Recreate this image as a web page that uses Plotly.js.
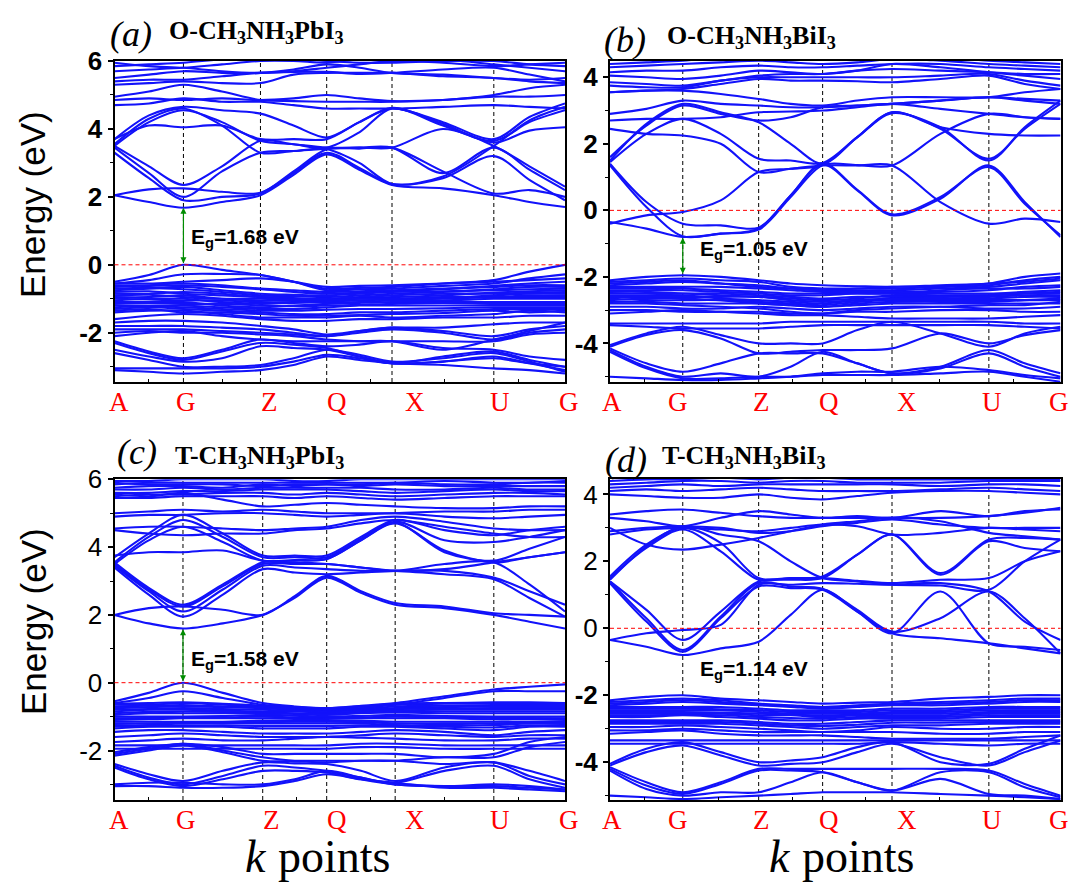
<!DOCTYPE html>
<html><head><meta charset="utf-8">
<script src="https://cdn.plot.ly/plotly-3.0.1.min.js"></script>
<style>html,body{margin:0;padding:0;background:#fff}#chart{width:1074px;height:885px}</style>
</head><body><div id="chart"></div>
<script>
// ---------------- DATA ----------------
const kLabels = ['A','G','Z','Q','X','U','G'];
// k-path distances (normalised) of the high-symmetry points
const kPathA = [0, 0.153, 0.324, 0.471, 0.616, 0.842, 1];
const kPathB = [0, 0.1615, 0.330, 0.472, 0.626, 0.841, 1];
const kPathC = [0, 0.152, 0.329, 0.471, 0.623, 0.842, 1];
const kPathD = [0, 0.1615, 0.330, 0.472, 0.626, 0.841, 1];

const panelTitles = ['O-CH<sub>3</sub>NH<sub>3</sub>PbI<sub>3</sub>','O-CH<sub>3</sub>NH<sub>3</sub>BiI<sub>3</sub>','T-CH<sub>3</sub>NH<sub>3</sub>PbI<sub>3</sub>','T-CH<sub>3</sub>NH<sub>3</sub>BiI<sub>3</sub>'];
const panelLetters = ['(a)','(b)','(c)','(d)'];
const gapValues = [1.68, 1.05, 1.58, 1.14];
// gap arrow ends [VBM, CBM] (null = no arrow)
const gapArrows = [[0, 1.68], [-1.95, -0.82], [0, 1.58], null];
const xTitleParts = ['k', 'points'];

// band energies (eV) sampled at A, A-G mid, G, G-Z mid, Z, Z-Q mid, Q, Q-X mid, X, X-U mid, U, U-G mid, G
const condA = [
 [2.05,1.85,1.68,1.85,2.05,2.65,3.25,2.8,2.35,2.25,2.05,1.85,1.7],
 [2.05,2.22,2.25,2.15,2.12,2.7,3.3,2.85,2.38,2.55,3.2,2.5,1.9],
 [3.3,2.55,1.9,2.0,2.1,2.75,3.4,3.42,3.45,2.75,2.1,2.2,2.0],
 [3.45,2.7,2.0,2.75,3.3,3.35,3.42,3.45,3.45,4.0,3.5,2.9,2.3],
 [3.5,2.9,2.35,2.9,3.65,3.55,3.45,3.45,3.45,2.7,3.45,2.8,2.2],
 [3.5,4.2,4.55,4.2,3.65,3.55,3.45,3.9,4.6,4.1,3.65,4.2,4.55],
 [3.55,4.3,4.6,4.1,3.3,3.35,3.4,3.0,2.38,2.6,3.5,4.25,4.65],
 [3.7,4.1,4.05,4.1,3.7,3.7,3.7,4.2,4.62,4.15,3.6,3.95,4.05],
 [3.7,4.4,4.65,4.55,4.45,4.1,3.75,4.2,4.6,4.2,3.7,4.35,4.75],
 [4.7,4.75,4.9,4.8,4.8,4.7,4.6,4.6,4.6,4.65,4.7,4.65,4.6],
 [4.85,4.9,4.85,4.9,4.85,4.9,5.0,4.9,4.82,4.85,4.95,4.95,5.0],
 [4.95,5.1,5.3,5.1,4.85,4.82,4.8,4.8,4.8,4.85,5.0,5.2,5.3],
 [5.3,5.35,5.4,5.35,5.35,5.6,5.65,5.65,5.65,5.55,5.5,5.4,5.35],
 [5.4,5.45,5.45,5.55,5.65,5.68,5.68,5.62,5.65,5.75,5.8,5.6,5.4],
 [5.5,5.6,5.7,5.65,5.65,5.75,5.9,5.8,5.65,5.6,5.5,5.45,5.5],
 [5.7,5.75,5.8,5.9,6.0,6.0,5.95,6.05,6.1,6.05,5.9,5.8,5.7],
 [5.85,5.9,5.95,6.05,6.1,6.1,6.0,5.95,5.95,6.0,6.0,5.9,5.85],
 [5.95,5.85,5.8,5.7,5.65,5.7,5.8,5.9,6.0,5.95,5.85,5.9,5.95]
];
const valA = [
 [-0.5,-0.3,0,-0.15,-0.3,-0.5,-0.7,-0.68,-0.65,-0.55,-0.45,-0.2,0],
 [-0.55,-0.45,-0.28,-0.27,-0.3,-0.5,-0.75,-0.72,-0.7,-0.62,-0.55,-0.4,-0.28],
 [-0.55,-0.55,-0.5,-0.45,-0.4,-0.5,-0.65,-0.62,-0.6,-0.55,-0.5,-0.45,-0.4],
 [-0.6,-0.62,-0.6,-0.65,-0.72,-0.8,-0.85,-0.82,-0.78,-0.72,-0.62,-0.55,-0.5],
 [-0.65,-0.6,-0.55,-0.6,-0.7,-0.75,-0.8,-0.78,-0.75,-0.7,-0.65,-0.6,-0.6],
 [-0.7,-0.68,-0.72,-0.8,-0.9,-0.92,-0.95,-0.9,-0.85,-0.8,-0.72,-0.65,-0.65],
 [-0.75,-0.7,-0.65,-0.75,-0.85,-0.88,-0.9,-0.85,-0.8,-0.78,-0.75,-0.72,-0.7],
 [-0.8,-0.78,-0.85,-0.9,-0.95,-0.98,-1.0,-0.98,-0.95,-0.9,-0.82,-0.78,-0.75],
 [-0.85,-0.85,-0.8,-0.85,-0.95,-1.0,-1.0,-0.95,-0.9,-0.85,-0.85,-0.82,-0.8],
 [-0.9,-0.88,-0.95,-1.0,-1.0,-1.02,-1.02,-1.0,-1.0,-0.98,-0.9,-0.85,-0.85],
 [-0.95,-0.95,-0.9,-1.0,-1.05,-1.05,-1.05,-1.0,-1.0,-0.95,-0.95,-0.9,-0.9],
 [-1.0,-1.02,-1.05,-1.05,-1.1,-1.1,-1.08,-1.05,-1.02,-1.0,-0.95,-0.95,-0.95],
 [-1.05,-1.0,-1.0,-1.1,-1.15,-1.12,-1.1,-1.1,-1.05,-1.05,-1.0,-1.0,-1.0],
 [-1.1,-1.1,-1.1,-1.2,-1.25,-1.2,-1.15,-1.12,-1.1,-1.1,-1.1,-1.1,-1.1],
 [-1.15,-1.12,-1.15,-1.15,-1.2,-1.22,-1.2,-1.18,-1.15,-1.12,-1.15,-1.15,-1.15],
 [-1.2,-1.2,-1.2,-1.25,-1.3,-1.3,-1.25,-1.2,-1.2,-1.2,-1.2,-1.2,-1.2],
 [-1.25,-1.22,-1.25,-1.3,-1.35,-1.35,-1.32,-1.3,-1.3,-1.28,-1.25,-1.25,-1.25],
 [-1.3,-1.25,-1.3,-1.35,-1.4,-1.45,-1.45,-1.4,-1.4,-1.35,-1.3,-1.3,-1.3],
 [-1.35,-1.3,-1.4,-1.4,-1.45,-1.5,-1.5,-1.48,-1.45,-1.42,-1.35,-1.4,-1.35],
 [-1.4,-1.35,-1.35,-1.45,-1.55,-1.55,-1.55,-1.5,-1.55,-1.5,-1.45,-1.35,-1.4],
 [-1.6,-1.5,-1.45,-1.5,-1.6,-1.65,-1.65,-1.6,-1.6,-1.55,-1.55,-1.5,-1.5],
 [-1.7,-1.65,-1.65,-1.7,-1.8,-1.9,-2.05,-1.95,-1.85,-1.85,-1.75,-1.7,-1.7],
 [-1.8,-1.8,-1.8,-1.85,-1.9,-2.0,-2.1,-1.95,-1.85,-1.95,-2.1,-1.9,-1.8],
 [-1.9,-1.9,-1.9,-1.95,-2.0,-2.05,-2.1,-2.0,-1.9,-2.0,-2.2,-2.0,-1.9],
 [-2.0,-1.95,-2.0,-2.0,-2.05,-2.1,-2.2,-2.25,-2.25,-2.25,-2.25,-2.05,-2.0],
 [-2.1,-2.0,-1.95,-2.1,-2.2,-2.25,-2.25,-2.25,-2.25,-2.5,-2.2,-1.95,-1.7],
 [-2.25,-2.55,-2.75,-2.5,-2.2,-2.3,-2.4,-2.35,-2.25,-2.45,-2.5,-2.7,-2.8],
 [-2.3,-2.6,-2.8,-2.55,-2.3,-2.35,-2.45,-2.7,-2.9,-2.7,-2.55,-2.8,-3.0],
 [-2.5,-2.7,-2.85,-2.75,-2.4,-2.45,-2.5,-2.7,-2.9,-2.85,-2.7,-2.9,-3.1],
 [-2.6,-2.8,-3.0,-3.0,-2.95,-2.75,-2.5,-2.65,-2.85,-2.75,-2.6,-2.85,-3.15],
 [-3.05,-3.05,-3.05,-3.05,-3.0,-2.85,-2.65,-2.75,-2.9,-2.85,-2.75,-2.9,-3.0],
 [-3.1,-3.15,-3.2,-3.15,-3.1,-2.95,-2.7,-2.8,-2.9,-2.95,-3.05,-3.1,-3.2]
];
const condB = [
 [-0.35,-0.55,-0.8,-0.7,-0.55,0.45,1.38,0.6,-0.15,0.35,1.35,0.25,-0.8],
 [1.4,0.25,-0.4,-0.45,-0.52,0.45,1.42,0.62,-0.12,0.4,1.3,0.2,-0.75],
 [-0.4,-0.15,-0.05,0.3,1.15,1.25,1.35,1.35,1.35,0.25,-0.4,-0.25,-0.35],
 [1.35,0.1,-0.78,-0.7,-0.58,0.4,1.36,1.36,1.35,2.3,2.9,2.8,2.75],
 [1.45,2.3,2.75,2.3,1.55,1.5,1.42,2.2,2.95,2.45,1.55,2.45,3.2],
 [1.5,2.6,3.2,2.95,2.65,2.0,1.4,2.2,2.92,2.5,1.5,2.5,3.3],
 [1.6,2.55,3.15,2.9,2.7,2.8,3.1,3.15,3.2,3.3,3.4,3.35,3.3],
 [2.7,2.75,2.75,2.8,2.95,2.97,3.0,3.1,3.2,3.05,2.9,2.8,2.75],
 [2.9,3.05,3.3,3.2,3.15,3.1,3.1,3.15,3.2,3.3,3.4,3.3,3.2],
 [2.45,2.3,2.25,2.0,1.15,1.25,1.36,2.2,2.95,2.5,2.3,2.25,2.25],
 [3.55,3.6,3.6,3.5,3.35,3.2,3.15,3.3,3.4,3.4,3.4,3.55,3.65],
 [3.55,3.6,3.65,3.8,3.95,3.9,3.9,3.88,3.85,3.95,4.05,3.8,3.65],
 [3.75,3.7,3.7,3.9,4.0,4.0,4.0,4.0,4.0,4.05,4.1,3.9,3.75],
 [3.85,3.8,3.75,3.9,4.05,4.1,4.1,4.2,4.4,4.3,4.15,4.05,3.95],
 [4.05,4.0,3.95,4.05,4.2,4.15,4.1,4.2,4.25,4.2,4.15,4.1,4.1],
 [4.15,4.2,4.2,4.3,4.35,4.3,4.3,4.35,4.4,4.4,4.3,4.25,4.2],
 [4.3,4.35,4.4,4.45,4.5,4.45,4.4,4.45,4.55,4.5,4.4,4.35,4.3],
 [4.4,4.45,4.5,4.6,4.6,4.6,4.55,4.6,4.6,4.6,4.5,4.45,4.4]
];
const valB = [
 [-2.1,-2.0,-1.95,-2.0,-2.1,-2.2,-2.25,-2.28,-2.3,-2.25,-2.2,-2.0,-1.9],
 [-2.15,-2.1,-2.05,-2.1,-2.15,-2.3,-2.35,-2.35,-2.35,-2.3,-2.25,-2.1,-2.0],
 [-2.2,-2.15,-2.1,-2.2,-2.3,-2.35,-2.4,-2.35,-2.3,-2.3,-2.2,-2.15,-2.05],
 [-2.25,-2.2,-2.15,-2.2,-2.25,-2.35,-2.4,-2.4,-2.4,-2.35,-2.3,-2.2,-2.1],
 [-2.3,-2.3,-2.3,-2.3,-2.35,-2.4,-2.45,-2.45,-2.45,-2.45,-2.4,-2.3,-2.25],
 [-2.35,-2.35,-2.35,-2.4,-2.45,-2.5,-2.5,-2.5,-2.5,-2.4,-2.35,-2.35,-2.3],
 [-2.4,-2.4,-2.4,-2.45,-2.5,-2.55,-2.55,-2.5,-2.5,-2.5,-2.5,-2.45,-2.4],
 [-2.45,-2.45,-2.5,-2.55,-2.6,-2.65,-2.7,-2.65,-2.55,-2.55,-2.55,-2.5,-2.45],
 [-2.5,-2.5,-2.5,-2.5,-2.55,-2.6,-2.65,-2.6,-2.6,-2.6,-2.55,-2.5,-2.5],
 [-2.55,-2.55,-2.55,-2.65,-2.7,-2.75,-2.8,-2.7,-2.65,-2.6,-2.6,-2.55,-2.55],
 [-2.6,-2.6,-2.6,-2.6,-2.6,-2.7,-2.75,-2.7,-2.65,-2.65,-2.65,-2.6,-2.6],
 [-2.65,-2.7,-2.7,-2.7,-2.75,-2.8,-2.85,-2.75,-2.7,-2.7,-2.7,-2.7,-2.7],
 [-2.7,-2.65,-2.65,-2.7,-2.8,-2.85,-2.9,-2.8,-2.75,-2.75,-2.75,-2.7,-2.65],
 [-2.75,-2.75,-2.8,-2.8,-2.8,-2.85,-2.9,-2.85,-2.8,-2.8,-2.8,-2.8,-2.8],
 [-2.8,-2.8,-2.85,-2.9,-2.95,-3.05,-3.1,-3.0,-2.95,-2.9,-2.85,-2.85,-2.75],
 [-2.9,-2.9,-2.95,-2.95,-2.9,-2.95,-3.0,-2.95,-2.9,-2.9,-2.95,-2.95,-2.9],
 [-3.0,-3.0,-3.05,-3.05,-3.05,-3.1,-3.1,-3.05,-3.05,-3.0,-3.0,-3.05,-3.05],
 [-3.1,-3.05,-3.0,-3.05,-3.1,-3.15,-3.15,-3.2,-3.25,-3.25,-3.25,-3.2,-3.15],
 [-3.4,-3.4,-3.4,-3.4,-3.4,-3.35,-3.35,-3.35,-3.35,-3.35,-3.35,-3.4,-3.4],
 [-3.45,-3.5,-3.55,-3.55,-3.55,-3.5,-3.45,-3.45,-3.45,-3.45,-3.45,-3.5,-3.55],
 [-4.05,-3.7,-3.5,-3.75,-4.0,-4.0,-4.0,-3.6,-3.35,-3.7,-4.1,-3.7,-3.5],
 [-4.1,-3.75,-3.6,-3.85,-4.3,-4.25,-4.2,-4.2,-4.15,-3.7,-4.0,-3.75,-3.6],
 [-4.15,-4.6,-4.85,-4.6,-4.3,-4.3,-4.3,-4.6,-4.9,-4.7,-4.2,-4.6,-4.9],
 [-4.2,-4.7,-5.0,-4.9,-5.0,-4.7,-4.25,-4.6,-4.9,-4.75,-4.3,-4.7,-5.0],
 [-4.25,-4.75,-5.05,-5.05,-5.0,-5.0,-4.9,-4.85,-4.85,-4.7,-4.8,-4.95,-5.05],
 [-5.0,-5.05,-5.1,-5.1,-5.05,-5.0,-4.95,-4.95,-4.95,-4.9,-4.85,-5.0,-5.15]
];
const condC = [
 [2.0,1.75,1.6,1.75,2.0,2.5,3.1,2.65,2.3,2.2,2.0,1.8,1.6],
 [2.0,2.2,2.25,2.15,2.0,2.55,3.15,2.7,2.35,2.25,2.05,2.0,1.95],
 [3.4,2.6,1.95,2.6,3.35,3.25,3.2,3.25,3.3,3.3,3.1,2.7,2.3],
 [3.45,2.7,2.1,2.75,3.45,3.4,3.35,3.3,3.3,3.2,3.05,2.5,1.95],
 [3.5,2.75,2.25,2.85,3.5,3.5,3.5,3.4,3.3,3.5,3.55,2.9,2.1],
 [3.55,2.8,2.3,2.9,3.55,3.6,3.65,4.2,4.7,3.9,3.55,3.7,3.85],
 [3.5,4.2,4.6,4.15,3.6,3.62,3.65,4.2,4.72,3.85,3.6,3.95,4.3],
 [3.55,4.3,4.8,4.3,3.7,3.7,3.7,4.25,4.75,4.2,4.15,4.3,4.5],
 [3.7,4.4,4.95,4.4,3.75,3.75,3.75,4.3,4.8,4.5,4.35,4.5,4.6],
 [3.75,3.85,3.85,3.9,3.6,3.55,3.5,3.4,3.3,3.35,3.55,3.7,3.85],
 [4.5,4.4,4.35,4.4,4.4,4.5,4.55,4.7,4.8,4.6,4.4,4.3,4.3],
 [4.55,4.6,4.6,4.55,4.5,4.55,4.6,4.8,4.9,4.75,4.55,4.5,4.5],
 [4.9,4.95,4.95,5.0,5.0,4.95,4.9,4.95,5.0,4.9,4.85,4.9,4.95],
 [5.0,5.05,5.1,5.05,5.1,5.05,5.0,5.0,5.0,5.05,5.05,5.1,5.1],
 [5.45,5.45,5.5,5.5,5.5,5.45,5.5,5.45,5.4,5.45,5.5,5.5,5.5],
 [5.5,5.55,5.55,5.6,5.6,5.55,5.6,5.55,5.5,5.55,5.6,5.6,5.55],
 [5.6,5.6,5.65,5.65,5.7,5.7,5.7,5.65,5.6,5.65,5.7,5.65,5.65],
 [5.7,5.7,5.75,5.7,5.75,5.75,5.75,5.75,5.7,5.7,5.75,5.7,5.7],
 [5.75,5.8,5.8,5.75,5.85,5.8,5.85,5.8,5.85,5.8,5.8,5.8,5.8],
 [5.85,5.9,5.9,5.9,5.9,5.9,5.9,5.9,5.9,5.95,5.9,5.9,5.95],
 [5.9,5.85,5.85,5.85,5.8,5.85,5.85,5.85,5.9,5.85,5.85,5.9,5.9],
 [5.95,5.95,6.0,6.0,6.0,5.95,5.95,6.0,6.0,6.0,6.0,6.0,6.0],
 [5.55,5.5,5.6,5.4,5.2,5.25,5.3,5.25,5.2,5.15,5.15,5.2,5.2]
];
const valC = [
 [-0.55,-0.3,0,-0.3,-0.6,-0.7,-0.75,-0.68,-0.6,-0.4,-0.2,-0.12,-0.05],
 [-0.6,-0.45,-0.25,-0.45,-0.65,-0.72,-0.78,-0.7,-0.65,-0.45,-0.25,-0.25,-0.25],
 [-0.62,-0.6,-0.58,-0.62,-0.68,-0.72,-0.75,-0.7,-0.62,-0.6,-0.58,-0.58,-0.6],
 [-0.65,-0.65,-0.6,-0.65,-0.7,-0.75,-0.8,-0.75,-0.65,-0.62,-0.6,-0.6,-0.62],
 [-0.7,-0.68,-0.66,-0.7,-0.72,-0.78,-0.82,-0.78,-0.7,-0.68,-0.66,-0.66,-0.66],
 [-0.75,-0.72,-0.7,-0.72,-0.75,-0.8,-0.85,-0.8,-0.75,-0.72,-0.7,-0.7,-0.7],
 [-0.8,-0.78,-0.75,-0.78,-0.8,-0.82,-0.86,-0.83,-0.78,-0.76,-0.75,-0.75,-0.75],
 [-0.85,-0.8,-0.8,-0.82,-0.85,-0.85,-0.88,-0.85,-0.82,-0.8,-0.8,-0.8,-0.8],
 [-0.9,-0.86,-0.85,-0.86,-0.88,-0.9,-0.92,-0.88,-0.85,-0.85,-0.85,-0.85,-0.85],
 [-0.95,-0.9,-0.9,-0.9,-0.9,-0.92,-0.95,-0.9,-0.88,-0.9,-0.9,-0.9,-0.9],
 [-1.0,-1.0,-1.0,-0.98,-0.95,-0.97,-1.0,-0.98,-0.95,-0.98,-1.0,-1.0,-1.0],
 [-1.05,-1.04,-1.02,-1.02,-1.0,-1.02,-1.03,-1.02,-1.0,-1.02,-1.04,-1.04,-1.05],
 [-1.1,-1.08,-1.05,-1.05,-1.05,-1.05,-1.05,-1.05,-1.05,-1.05,-1.08,-1.08,-1.1],
 [-1.15,-1.15,-1.15,-1.15,-1.12,-1.1,-1.1,-1.12,-1.15,-1.15,-1.15,-1.15,-1.15],
 [-1.2,-1.2,-1.18,-1.17,-1.16,-1.15,-1.15,-1.16,-1.2,-1.2,-1.2,-1.18,-1.18],
 [-1.25,-1.25,-1.2,-1.2,-1.2,-1.2,-1.2,-1.2,-1.25,-1.25,-1.25,-1.2,-1.2],
 [-1.3,-1.28,-1.26,-1.26,-1.28,-1.28,-1.28,-1.26,-1.28,-1.3,-1.32,-1.26,-1.25],
 [-1.35,-1.3,-1.3,-1.3,-1.35,-1.35,-1.35,-1.3,-1.3,-1.35,-1.4,-1.3,-1.3],
 [-1.45,-1.4,-1.4,-1.45,-1.5,-1.5,-1.5,-1.45,-1.4,-1.45,-1.55,-1.45,-1.4],
 [-1.6,-1.55,-1.5,-1.55,-1.6,-1.6,-1.6,-1.55,-1.5,-1.55,-1.6,-1.55,-1.55],
 [-1.75,-1.7,-1.65,-1.7,-1.7,-1.65,-1.6,-1.62,-1.65,-1.7,-1.7,-1.65,-1.65],
 [-1.85,-1.85,-1.85,-1.85,-1.85,-1.85,-1.85,-1.8,-1.8,-1.85,-1.85,-1.85,-1.85],
 [-1.95,-1.95,-1.95,-1.95,-1.95,-1.95,-1.95,-1.9,-1.9,-1.95,-1.95,-1.95,-1.95],
 [-2.05,-1.9,-1.8,-1.9,-2.1,-2.1,-2.1,-2.1,-2.1,-2.2,-2.1,-1.75,-1.6],
 [-2.1,-1.95,-1.8,-2.0,-2.2,-2.3,-2.3,-2.3,-2.3,-2.2,-2.2,-1.9,-1.75],
 [-2.15,-2.0,-1.85,-2.05,-2.3,-2.32,-2.35,-2.3,-2.3,-2.4,-2.35,-2.6,-2.9],
 [-2.4,-2.7,-2.9,-2.6,-2.35,-2.38,-2.4,-2.6,-2.9,-2.5,-2.35,-2.75,-3.0],
 [-2.45,-2.8,-3.0,-2.75,-2.45,-2.5,-2.6,-2.8,-2.95,-2.6,-2.45,-2.85,-3.1],
 [-2.5,-2.85,-3.05,-2.85,-2.6,-2.6,-2.65,-2.85,-3.0,-3.05,-3.0,-3.05,-3.15],
 [-3.05,-3.05,-3.1,-3.1,-3.05,-2.9,-2.7,-2.85,-2.95,-3.1,-3.1,-3.15,-3.2],
 [-3.0,-2.95,-2.95,-3.0,-3.0,-2.85,-2.6,-2.8,-3.0,-3.05,-3.05,-3.1,-3.15]
];
const condD = [
 [-0.35,-0.55,-0.8,-0.6,-0.4,0.4,1.15,0.5,-0.15,-0.3,-0.45,-0.6,-0.75],
 [-0.35,-0.15,-0.05,0.1,1.3,1.3,1.35,1.33,1.3,1.35,1.1,0.2,-0.35],
 [1.35,0.2,-0.7,0.3,1.25,1.2,1.15,0.5,-0.15,1.1,-0.45,-0.55,-0.65],
 [1.4,0.3,-0.65,0.35,1.35,1.25,1.18,0.55,-0.1,0.3,1.1,0.3,-0.75],
 [1.4,0.55,-0.35,0.5,1.4,1.45,1.5,2.2,2.8,1.6,2.6,2.4,2.3],
 [1.5,2.4,2.95,2.3,1.45,1.5,1.55,2.2,2.8,1.65,2.65,2.7,2.65],
 [1.55,2.5,3.0,2.55,1.5,1.5,1.5,1.42,1.35,1.45,1.5,2.0,2.3],
 [1.45,2.45,3.05,2.8,2.6,2.0,1.5,1.4,1.3,1.28,1.15,2.0,2.65],
 [2.8,2.95,3.0,2.95,2.9,3.0,3.1,3.05,2.8,2.85,3.0,2.95,2.9],
 [2.9,3.0,3.05,3.0,2.85,2.9,3.05,3.15,3.25,3.1,3.0,3.0,3.0],
 [3.0,2.5,2.35,2.5,2.7,2.9,3.1,3.2,3.3,3.2,2.85,2.75,2.65],
 [3.3,3.2,3.05,3.3,3.5,3.4,3.3,3.35,3.3,3.5,3.35,3.5,3.55],
 [3.4,3.5,3.55,3.45,3.35,3.3,3.3,3.3,3.3,3.3,3.35,3.45,3.6],
 [4.0,3.95,3.9,3.9,4.0,3.9,3.85,3.95,4.05,4.1,4.1,4.05,4.0],
 [4.1,4.15,4.1,4.15,4.2,4.15,4.1,4.1,4.1,4.15,4.2,4.15,4.1],
 [4.2,4.25,4.3,4.25,4.3,4.3,4.3,4.3,4.3,4.25,4.3,4.3,4.25],
 [4.3,4.35,4.4,4.4,4.35,4.4,4.4,4.35,4.35,4.35,4.4,4.4,4.4],
 [4.4,4.45,4.45,4.5,4.45,4.5,4.5,4.45,4.45,4.45,4.45,4.45,4.45]
];
const valD = [
 [-2.15,-2.05,-2.0,-2.1,-2.15,-2.2,-2.25,-2.22,-2.2,-2.1,-2.05,-2.0,-2.0],
 [-2.2,-2.15,-2.1,-2.15,-2.25,-2.3,-2.35,-2.3,-2.25,-2.2,-2.15,-2.1,-2.1],
 [-2.25,-2.2,-2.15,-2.2,-2.28,-2.32,-2.38,-2.32,-2.28,-2.25,-2.2,-2.15,-2.15],
 [-2.3,-2.25,-2.2,-2.25,-2.3,-2.35,-2.4,-2.35,-2.3,-2.3,-2.25,-2.2,-2.2],
 [-2.35,-2.35,-2.35,-2.35,-2.4,-2.45,-2.45,-2.45,-2.4,-2.4,-2.35,-2.35,-2.35],
 [-2.4,-2.4,-2.4,-2.42,-2.45,-2.5,-2.5,-2.5,-2.45,-2.45,-2.4,-2.4,-2.4],
 [-2.45,-2.45,-2.45,-2.45,-2.5,-2.55,-2.55,-2.55,-2.5,-2.5,-2.45,-2.45,-2.45],
 [-2.5,-2.5,-2.5,-2.52,-2.55,-2.58,-2.6,-2.58,-2.55,-2.55,-2.5,-2.5,-2.5],
 [-2.55,-2.55,-2.55,-2.55,-2.6,-2.6,-2.65,-2.6,-2.6,-2.6,-2.55,-2.55,-2.55],
 [-2.6,-2.6,-2.58,-2.6,-2.65,-2.68,-2.7,-2.65,-2.65,-2.65,-2.6,-2.6,-2.6],
 [-2.65,-2.65,-2.6,-2.65,-2.7,-2.75,-2.75,-2.7,-2.7,-2.7,-2.65,-2.65,-2.65],
 [-2.75,-2.75,-2.75,-2.75,-2.8,-2.85,-2.85,-2.8,-2.75,-2.75,-2.75,-2.75,-2.75],
 [-2.8,-2.8,-2.8,-2.8,-2.85,-2.9,-2.92,-2.88,-2.82,-2.82,-2.8,-2.8,-2.8],
 [-2.85,-2.85,-2.85,-2.85,-2.9,-2.95,-3.0,-2.95,-2.9,-2.9,-2.85,-2.85,-2.85],
 [-2.95,-2.95,-2.9,-2.95,-3.0,-3.05,-3.1,-3.05,-2.95,-3.0,-3.0,-2.95,-2.95],
 [-3.05,-3.05,-3.0,-3.05,-3.1,-3.1,-3.1,-3.1,-3.1,-3.15,-3.15,-3.1,-3.1],
 [-3.15,-3.1,-3.05,-3.15,-3.2,-3.2,-3.2,-3.25,-3.3,-3.3,-3.3,-3.25,-3.2],
 [-3.35,-3.35,-3.35,-3.35,-3.35,-3.35,-3.35,-3.35,-3.35,-3.35,-3.35,-3.35,-3.35],
 [-3.45,-3.45,-3.45,-3.45,-3.45,-3.45,-3.45,-3.45,-3.4,-3.45,-3.5,-3.45,-3.45],
 [-4.05,-3.6,-3.4,-3.7,-4.0,-3.95,-3.85,-3.55,-3.4,-4.0,-4.05,-3.6,-3.2],
 [-4.1,-3.7,-3.5,-3.8,-4.1,-4.05,-4.0,-3.7,-3.45,-3.85,-4.1,-3.7,-3.35],
 [-4.15,-4.6,-4.9,-4.6,-4.2,-4.2,-4.2,-4.2,-4.2,-4.2,-4.25,-4.65,-5.0],
 [-4.2,-4.7,-4.95,-4.65,-4.25,-4.25,-4.3,-4.6,-4.85,-4.3,-4.3,-4.75,-5.05],
 [-4.25,-4.8,-5.0,-4.9,-4.9,-4.6,-4.3,-4.6,-4.85,-4.5,-4.95,-5.0,-5.1],
 [-5.0,-5.05,-5.1,-5.05,-5.0,-4.95,-4.9,-4.9,-4.9,-4.95,-5.0,-5.05,-5.1]
];

// ---------------- STYLE / LAYOUT ----------------
const W = 1074, H = 885;
const SANS = 'Liberation Sans, Arial, sans-serif';
const SERIF = 'Liberation Serif, Times New Roman, serif';
const BAND_COLOR = 'rgb(18,18,250)';

const panels = [
  {xa:'x',  ya:'y',  K:kPathA, bands:condA.concat(valA), xpx:[114.5,565], ypx:[61,382], yr:[-3.45,6.0],
   tv:[-2,0,2,4,6], tt:['-2','0','2','4','6'], tw:'bold',
   lblShift:[4.5,2.6,9.5,10.3,23,6.2,3.5], lblY:402, letterPx:[108,34], titlePx:[167,32], egPx:[189,238]},
  {xa:'x2', ya:'y2', K:kPathB, bands:condB.concat(valB), xpx:[610,1060.5], ypx:[61,382], yr:[-5.16,4.49],
   tv:[-4,-2,0,2,4], tt:['-4','-2','0','2','4'], tw:'bold',
   lblShift:[2,-4.8,3.3,6.4,15,3.3,-1.5], lblY:402, letterPx:[602,40], titlePx:[665,37], egPx:[698,250]},
  {xa:'x3', ya:'y3', K:kPathC, bands:condC.concat(valC), xpx:[114.5,565], ypx:[479.3,800], yr:[-3.46,6.0],
   tv:[-2,0,2,4,6], tt:['-2','0','2','4','6'], tw:'normal',
   lblShift:[4.5,3,8.3,10.3,19.8,6.2,3.5], lblY:820, letterPx:[115,452], titlePx:[173,457], egPx:[189,660]},
  {xa:'x4', ya:'y4', K:kPathD, bands:condD.concat(valD), xpx:[610,1060.5], ypx:[479,800], yr:[-5.13,4.46],
   tv:[-4,-2,0,2,4], tt:['<b>-4</b>','<b>-2</b>','0','2','4'], tw:'normal',
   lblShift:[2,-4.8,3.3,6.4,15,3.3,-1.5], lblY:820, letterPx:[603,460], titlePx:[660,457], egPx:[698,670]}
];

function sampleX(K){ const s=[]; for(let i=0;i<K.length;i++){ s.push(K[i]); if(i<K.length-1) s.push((K[i]+K[i+1])/2);} return s; }

const traces = [];
const shapes = [];
const annotations = [];
const layout = {width:W, height:H, margin:{l:0,r:0,t:0,b:0}, paper_bgcolor:'#fff', plot_bgcolor:'#fff', showlegend:false};

panels.forEach((p, i) => {
  const xs = sampleX(p.K);
  p.bands.forEach(b => traces.push({x:xs, y:b, mode:'lines', xaxis:p.xa, yaxis:p.ya, hoverinfo:'skip',
     line:{color:BAND_COLOR, width:2.1, shape:'spline', smoothing:0.9}}));
  const xName = 'xaxis' + (i ? i+1 : ''), yName = 'yaxis' + (i ? i+1 : '');
  layout[xName] = {domain:[p.xpx[0]/W, p.xpx[1]/W], range:[0,1], anchor:p.ya, showgrid:false, zeroline:false,
     showline:true, mirror:true, linecolor:'#000', linewidth:2, showticklabels:false,
     ticks:'inside', tick0:0.076, dtick:0.164, ticklen:3, tickwidth:1, tickcolor:'#000'};
  layout[yName] = {domain:[1-p.ypx[1]/H, 1-p.ypx[0]/H], range:p.yr, anchor:p.xa, showgrid:false, zeroline:false,
     showline:true, mirror:true, linecolor:'#000', linewidth:2, ticks:'outside', ticklen:5, tickwidth:2, tickcolor:'#000',
     tickvals:p.tv, ticktext:p.tt, tickfont:{family:SANS, size:26, color:'#000', weight:p.tw},
     minor:{dtick:1, tick0:0, ticks:'outside', ticklen:3, tickwidth:1, tickcolor:'#000'}};
  const yref = p.ya, xref = p.xa;
  p.K.slice(1, -1).forEach(k => shapes.push({type:'line', xref:xref, yref:yref+' domain', x0:k, x1:k, y0:0, y1:1,
     layer:'below', line:{color:'#000', width:1, dash:'4px,3px'}}));
  shapes.push({type:'line', xref:xref+' domain', yref:yref, x0:0, x1:1, y0:0, y1:0, layer:'above',
     line:{color:'rgb(255,0,0)', width:1, dash:'4px,3px'}});
  kLabels.forEach((lab, j) => annotations.push({xref:xref, yref:'paper', x:p.K[j], y:1-p.lblY/H, xshift:p.lblShift[j],
     text:lab, showarrow:false, xanchor:'center', yanchor:'middle', font:{family:SERIF, size:27, color:'rgb(255,0,0)'}}));
  annotations.push({xref:'paper', yref:'paper', x:p.letterPx[0]/W, y:1-p.letterPx[1]/H, text:panelLetters[i],
     showarrow:false, xanchor:'left', yanchor:'middle', font:{family:SERIF, size:36, color:'#000', style:'italic'}});
  annotations.push({xref:'paper', yref:'paper', x:p.titlePx[0]/W, y:1-p.titlePx[1]/H, text:panelTitles[i],
     showarrow:false, xanchor:'left', yanchor:'middle', font:{family:SERIF, size:26, color:'#000', weight:'bold'}});
  annotations.push({xref:'paper', yref:'paper', x:p.egPx[0]/W, y:1-p.egPx[1]/H,
     text:'E<sub>g</sub>=' + gapValues[i].toFixed(2) + ' eV', showarrow:false, xanchor:'left', yanchor:'middle',
     font:{family:SANS, size:21, color:'#000', weight:'bold'}});
  if (gapArrows[i]) {
    annotations.push({xref:xref, yref:yref, axref:xref, ayref:yref, x:p.K[1], y:gapArrows[i][1], ax:p.K[1], ay:gapArrows[i][0],
      text:'', showarrow:true, arrowside:'end+start', arrowhead:2, arrowsize:1, arrowwidth:1.2, arrowcolor:'rgb(0,140,0)'});
  }
});

[[33,205],[33,622]].forEach(pt => annotations.push({xref:'paper', yref:'paper', x:pt[0]/W, y:1-pt[1]/H, text:'Energy (eV)',
   textangle:-90, showarrow:false, xanchor:'center', yanchor:'middle', font:{family:SANS, size:35, color:'#000'}}));
// x-axis titles: italic "k" + upright "points"
[[243,856],[767,856]].forEach(pt => {
  annotations.push({xref:'paper', yref:'paper', x:pt[0]/W, y:1-pt[1]/H, text:xTitleParts[0], showarrow:false,
     xanchor:'left', yanchor:'middle', font:{family:SERIF, size:46, color:'#000', style:'italic'}});
  annotations.push({xref:'paper', yref:'paper', x:(pt[0]+33)/W, y:1-pt[1]/H, text:xTitleParts[1], showarrow:false,
     xanchor:'left', yanchor:'middle', font:{family:SERIF, size:46, color:'#000'}});
});

layout.shapes = shapes;
layout.annotations = annotations;
Plotly.newPlot('chart', traces, layout, {staticPlot:true, displayModeBar:false});
</script>
</body></html>
